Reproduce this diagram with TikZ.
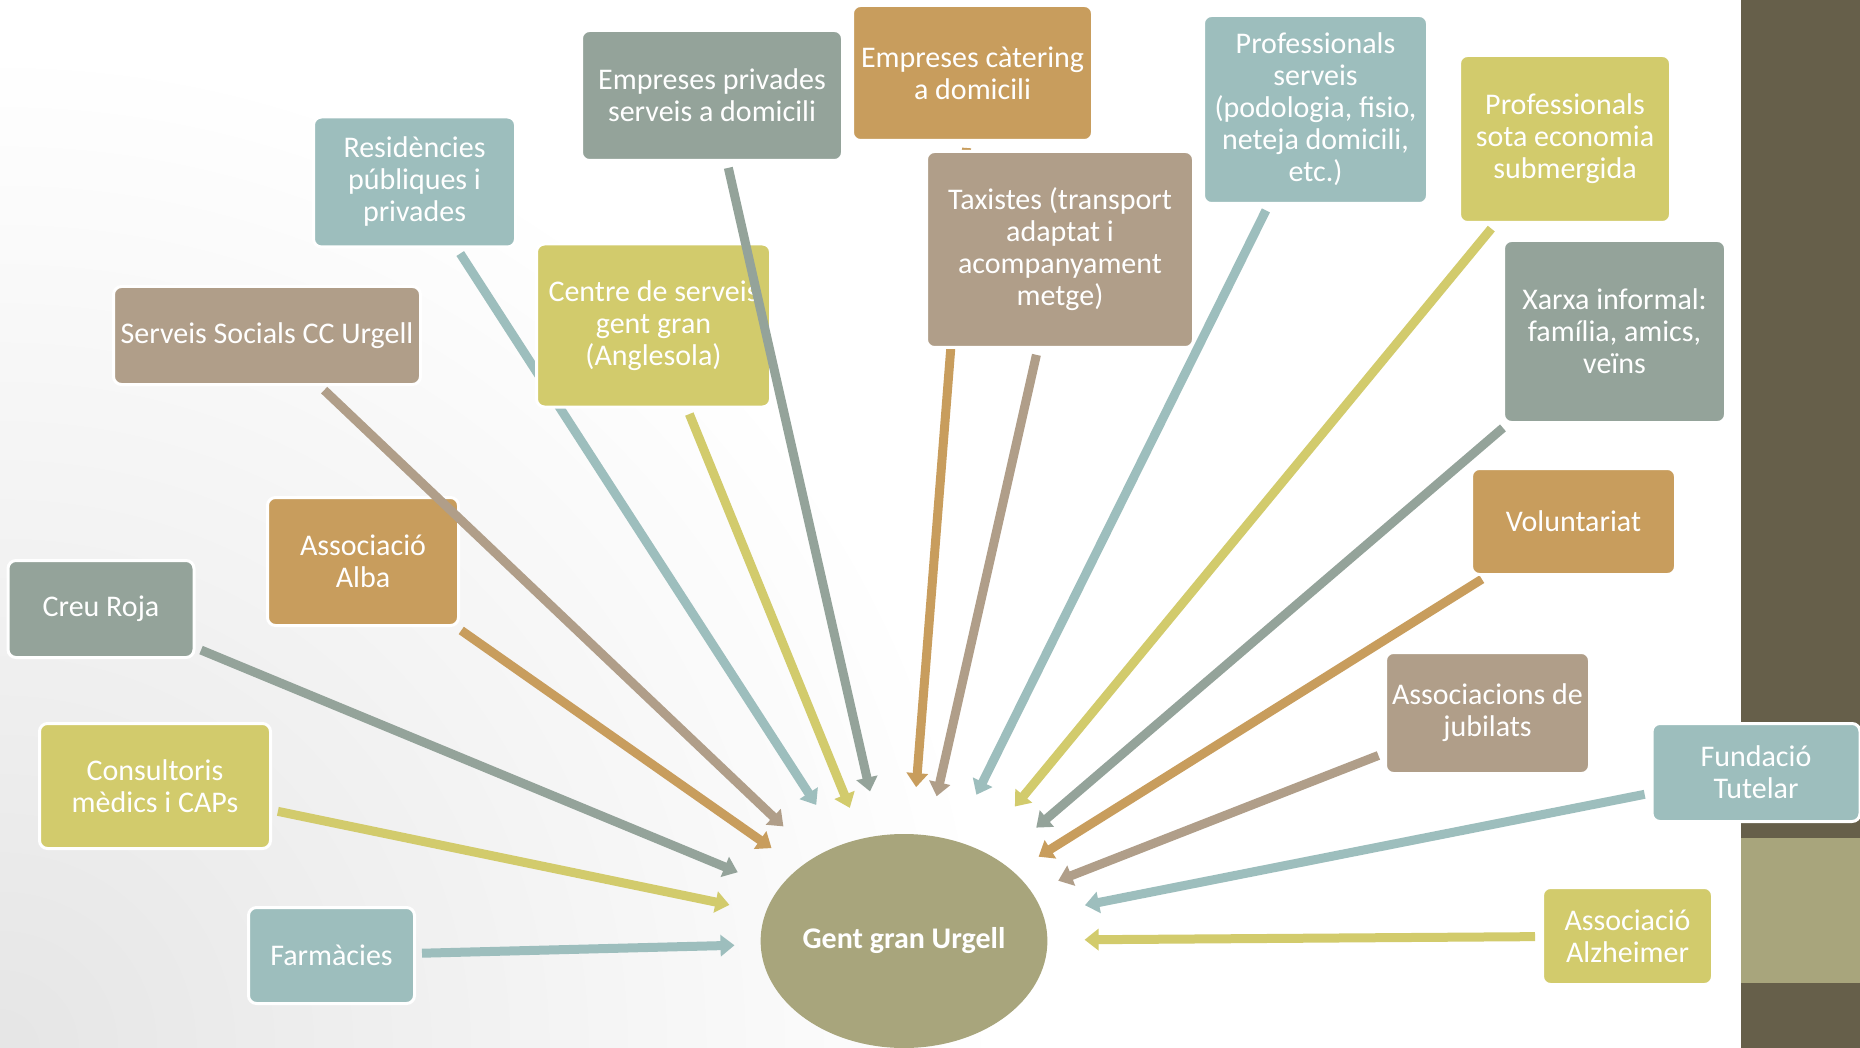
\documentclass[tikz,border=0pt]{standalone}
\usepackage{fontspec}
\setmainfont{Carlito}
\usetikzlibrary{arrows.meta}
\usetikzlibrary{shapes.geometric}
\definecolor{sage}{HTML}{94A39A}
\definecolor{teal}{HTML}{9DBEBD}
\definecolor{mustard}{HTML}{D2CB6C}
\definecolor{ochre}{HTML}{C89D5D}
\definecolor{taupe}{HTML}{B09E89}
\definecolor{olive}{HTML}{A8A57C}
\definecolor{bark}{HTML}{665F4A}
\tikzstyle{box}=[rectangle, rounded corners=8pt, draw=white, line width=3pt, text=white, align=center, inner sep=0pt, font=\fontsize{30}{32}\selectfont]
\tikzstyle{hub}=[ellipse, fill=olive, text=white, inner sep=0pt, minimum width=282pt, minimum height=214pt, font=\bfseries\fontsize{30}{32}\selectfont]
\tikzstyle{link}=[line width=9pt, -{Triangle[width=21pt,length=14pt]}, shorten <=6pt]
\pgfdeclarelayer{back}
\pgfdeclarelayer{lines}
\pgfdeclarelayer{front}
\pgfsetlayers{back,lines,main,front}

\begin{document}
\begin{tikzpicture}[x=1pt, y=-1pt]
    \useasboundingbox (0,0) rectangle (1860,1048);
    \begin{pgfonlayer}{back}
      \fill[white] (0,0) rectangle (1860,1048);
      \begin{scope}
        \clip (0,0) rectangle (1741,1048);
        \shade[inner color=black!10, outer color=white] (0,1048) circle (1000);
      \end{scope}
      \fill[bark] (1741,0) rectangle (1860,1048);
      \fill[olive] (1741,838) rectangle (1860,983);
    \end{pgfonlayer}

    \node[hub] (G) at (904,941) {Gent gran Urgell};

    \node[box, fill=sage, minimum width=186pt, minimum height=97pt] (creu) at (101,609) {Creu Roja};
    \node[box, fill=mustard, minimum width=231pt, minimum height=125pt] (cons) at (155,786) {Consultoris\\m\`edics i CAPs};
    \node[box, fill=teal, minimum width=166pt, minimum height=96pt] (farm) at (331.5,955.5) {Farm\`acies};
    \node[box, fill=ochre, minimum width=191pt, minimum height=128pt] (alba) at (363,561.5) {Associaci\'o\\Alba};
    \node[box, fill=taupe, minimum width=307pt, minimum height=98pt] (ss) at (267,335.5) {Serveis Socials CC Urgell};
    \node[box, fill=teal, minimum width=202pt, minimum height=130pt] (res) at (414.5,182) {Resid\`encies\\p\'ubliques i\\privades};
    \node[box, fill=mustard, minimum width=234pt, minimum height=163pt] (centre) at (653.5,325.5) {Centre de serveis\\gent gran\\(Anglesola)};
    \node[box, fill=sage, minimum width=261pt, minimum height=130pt] (epriv) at (712,95.5) {Empreses privades\\serveis a domicili};
    \node[box, fill=ochre, minimum width=240pt, minimum height=135pt] (ecat) at (972.5,73) {Empreses c\`atering\\a domicili};
    \node[box, fill=taupe, minimum width=267pt, minimum height=196pt] (taxi) at (1060,249.5) {Taxistes (transport\\adaptat i\\acompanyament\\metge)};
    \node[box, fill=teal, minimum width=224pt, minimum height=188pt] (pserv) at (1315.5,109.5) {Professionals\\serveis\\(podologia, fisio,\\neteja domicili,\\etc.)};
    \node[box, fill=mustard, minimum width=211pt, minimum height=167pt] (psub) at (1565,139) {Professionals\\sota economia\\submergida};
    \node[box, fill=sage, minimum width=222pt, minimum height=182pt] (xarxa) at (1614.5,331.5) {Xarxa informal:\\fam\'ilia, amics,\\ve\"ins};
    \node[box, fill=ochre, minimum width=204pt, minimum height=106pt] (volunt) at (1573.5,521.5) {Voluntariat};
    \node[box, fill=taupe, minimum width=204pt, minimum height=121pt] (jubil) at (1487.5,713) {Associacions de\\jubilats};
    \node[box, fill=teal, minimum width=208pt, minimum height=98pt] (fund) at (1756,772.5) {Fundaci\'o\\Tutelar};
    \node[box, fill=mustard, minimum width=170pt, minimum height=97pt] (alzh) at (1627.5,936) {Associaci\'o\\Alzheimer};

    % arrows behind the boxes
    \begin{pgfonlayer}{lines}
    \foreach \from/\gap/\col in
      {creu/44/sage, cons/37/mustard, farm/26/teal, alba/34/ochre, res/47/teal,
       centre/33/mustard, ecat/47/ochre, taxi/40/taupe, pserv/51/teal, psub/56/mustard,
       xarxa/50/sage, volunt/29/ochre, jubil/29/taupe, fund/43/teal, alzh/37/mustard}
    \draw[link, color=\col, shorten >=\gap pt] (\from) -- (G);
    \end{pgfonlayer}

    % these two cross over a box
    \begin{pgfonlayer}{front}
    \foreach \from/\gap/\col in {epriv/45/sage, ss/44/taupe}
    \draw[link, color=\col, shorten >=\gap pt] (\from) -- (G);
    \end{pgfonlayer}
\end{tikzpicture}
\end{document}
